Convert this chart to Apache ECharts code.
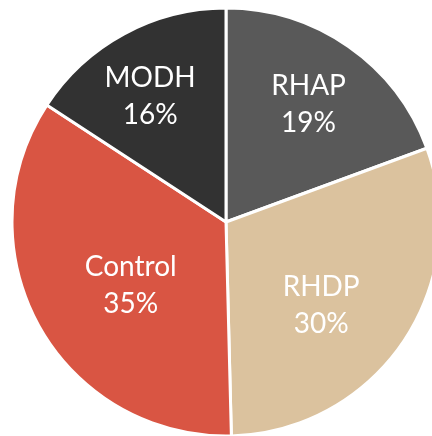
<!DOCTYPE html>
<html>
<head>
<meta charset="utf-8">
<script src="https://cdn.jsdelivr.net/npm/echarts@6/dist/echarts.min.js"></script>
<style>
  html, body { margin: 0; padding: 0; background: #fff; }
  #chart { width: 432px; height: 436px; }
</style>
</head>
<body>
<div id="chart"></div>
<script>
// slice data
const groups = ['RHAP', 'RHDP', 'Control', 'MODH'];
const shares = [19.4, 30.2, 34.6, 15.8];
const colors = ['#595959', '#dbc29e', '#d95543', '#323232'];

// small label nudges so text sits where the original put it
const nudge = { RHAP: [7, -9], RHDP: [-14, 9], Control: [20, -1], MODH: [-13, -9] };

const pieData = groups.map((g, i) => ({
  name: g,
  value: shares[i],
  itemStyle: { color: colors[i] }
}));

const labelData = groups.map((g, i) => ({
  name: g,
  value: shares[i],
  label: { offset: nudge[g] }
}));

let myChart = echarts.init(document.getElementById('chart'));

let option = {
  animation: false,
  series: [
    {
      type: 'pie',
      center: [226, 222],
      radius: [0, 214],
      startAngle: 90,
      clockwise: true,
      silent: true,
      label: { show: false },
      labelLine: { show: false },
      itemStyle: { borderColor: '#fff', borderWidth: 3 },
      data: pieData
    },
    {
      // transparent ring only used to place the labels
      type: 'pie',
      center: [226, 222],
      radius: [44, 214],
      startAngle: 90,
      clockwise: true,
      silent: true,
      percentPrecision: 0,
      itemStyle: { color: 'rgba(0,0,0,0)' },
      label: {
        show: true,
        position: 'inside',
        formatter: '{b}\n{d}%',
        color: '#fff',
        fontFamily: 'Lato',
        fontSize: 28,
        lineHeight: 37,
        textBorderWidth: 0
      },
      labelLine: { show: false },
      data: labelData
    }
  ]
};

myChart.setOption(option);
</script>
</body>
</html>
